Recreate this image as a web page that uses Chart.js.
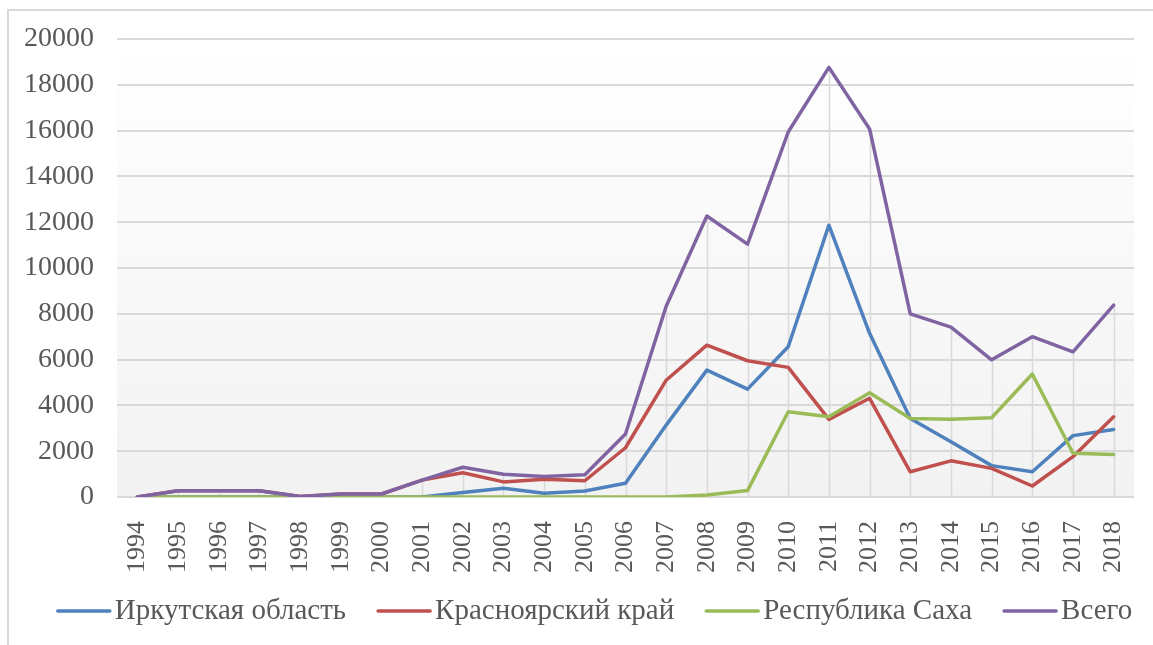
<!DOCTYPE html>
<html>
<head>
<meta charset="utf-8">
<script src="https://cdn.jsdelivr.net/npm/chart.js@4"></script>
<style>
  html, body { margin: 0; padding: 0; background: #fff; }
  #wrap { width: 1153px; height: 645px; position: relative; }
</style>
</head>
<body>
<div id="wrap"><canvas id="chart"></canvas></div>
<script>
// years on the category axis
const years = ['1994', '1995', '1996', '1997', '1998', '1999', '2000', '2001', '2002', '2003',
  '2004', '2005', '2006', '2007', '2008', '2009', '2010', '2011', '2012', '2013',
  '2014', '2015', '2016', '2017', '2018'];

// series values
const irkutsk = [0, 0, 0, 0, 0, 0, 0, 0, 200, 380, 160, 260, 600, 3140, 5540, 4710, 6560, 11870, 7150, 3430, 2410, 1370, 1100, 2680, 2950];
const krasnoyarsk = [0, 275, 275, 275, 20, 130, 130, 740, 1060, 660, 770, 710, 2150, 5100, 6630, 5950, 5660, 3390, 4310, 1100, 1580, 1250, 480, 1760, 3500];
const sakha = [0, 0, 0, 0, 0, 0, 0, 0, 0, 0, 0, 0, 0, 0, 90, 280, 3720, 3500, 4550, 3430, 3400, 3460, 5370, 1910, 1860];
const total = [0, 275, 275, 275, 20, 130, 130, 740, 1300, 990, 900, 970, 2750, 8330, 12270, 11040, 15940, 18760, 16070, 8000, 7420, 5990, 7000, 6340, 8380];

// y axis ticks
const yMin = 0;
const yMax = 20000;
const yStep = 2000;

const seriesNames = ['Иркутская область', 'Красноярский край', 'Республика Саха', 'Всего'];
const seriesColors = ['#4f81bd', '#c0504d', '#9bbb59', '#8064a2'];

const FONT = '"Liberation Serif", "Times New Roman", serif';
const TEXT = '#595959';

// gradient plot background + outer border of the chart area
const backgroundPlugin = {
  id: 'plotBackground',
  beforeDraw(chart) {
    const { ctx, chartArea } = chart;
    ctx.save();
    const g = ctx.createLinearGradient(0, chartArea.top, 0, chartArea.bottom);
    g.addColorStop(0, '#ffffff');
    g.addColorStop(1, '#f2f2f2');
    ctx.fillStyle = g;
    ctx.fillRect(chartArea.left, chartArea.top, chartArea.right - chartArea.left, chartArea.bottom - chartArea.top);
    ctx.strokeStyle = '#d9d9d9';
    ctx.lineWidth = 2;
    ctx.strokeRect(8, 10, chart.width + 20, chart.height + 20);
    ctx.restore();
  }
};

// drop lines from the highest value at each year down to the axis
const dropLinesPlugin = {
  id: 'dropLines',
  beforeDatasetsDraw(chart) {
    const { ctx, scales: { x, y } } = chart;
    ctx.save();
    ctx.strokeStyle = '#d9d9d9';
    ctx.lineWidth = 1.5;
    years.forEach((yr, i) => {
      const top = Math.max(...chart.data.datasets.map(ds => ds.data[i]));
      const px = Math.round(x.getPixelForValue(i)) + 0.5;
      ctx.beginPath();
      ctx.moveTo(px, y.getPixelForValue(top));
      ctx.lineTo(px, y.getPixelForValue(0));
      ctx.stroke();
    });
    ctx.restore();
  }
};

// legend drawn in the Excel style: line sample followed closely by its text
const legendPlugin = {
  id: 'excelLegend',
  afterDraw(chart) {
    const { ctx } = chart;
    ctx.save();
    ctx.font = '29px ' + FONT;
    ctx.textBaseline = 'middle';
    ctx.textAlign = 'left';
    const lineLen = 56, gapText = 3, gapItem = 30;
    let widthAll = 0;
    chart.data.datasets.forEach((ds, i) => {
      widthAll += lineLen + gapText + ctx.measureText(ds.label).width + (i > 0 ? gapItem : 0);
    });
    let xPos = 594 - widthAll / 2;
    const yPos = 611;
    chart.data.datasets.forEach(ds => {
      ctx.strokeStyle = ds.borderColor;
      ctx.lineWidth = 3.5;
      ctx.lineCap = 'round';
      ctx.beginPath();
      ctx.moveTo(xPos + 2, yPos);
      ctx.lineTo(xPos + lineLen - 2, yPos);
      ctx.stroke();
      xPos += lineLen + gapText;
      ctx.fillStyle = TEXT;
      ctx.fillText(ds.label, xPos, yPos);
      xPos += ctx.measureText(ds.label).width + gapItem;
    });
    ctx.restore();
  }
};

const seriesData = [irkutsk, krasnoyarsk, sakha, total];

const ctx = document.getElementById('chart');
new Chart(ctx, {
  type: 'line',
  data: {
    labels: years,
    datasets: seriesData.map((values, i) => ({
      label: seriesNames[i],
      data: values,
      borderColor: seriesColors[i],
      backgroundColor: seriesColors[i],
      borderWidth: 3.5,
      pointRadius: 0,
      tension: 0,
      borderJoinStyle: 'round',
      borderCapStyle: 'round',
      // later series on top, like Excel
      order: seriesData.length - i
    }))
  },
  options: {
    responsive: true,
    maintainAspectRatio: false,
    animation: false,
    layout: {
      padding: { left: 0, right: 19, top: 39, bottom: 60 }
    },
    plugins: {
      legend: { display: false },
      tooltip: { enabled: false }
    },
    scales: {
      x: {
        offset: true,
        grid: { display: false },
        border: { display: false },
        ticks: {
          color: TEXT,
          font: { family: FONT, size: 26 },
          minRotation: 90,
          maxRotation: 90,
          autoSkip: false,
          padding: 16
        },
        afterFit(scale) {
          scale.height = 88;
          scale.paddingLeft = 0;
          scale.paddingRight = 0;
        }
      },
      y: {
        min: yMin,
        max: yMax,
        grid: { color: '#d9d9d9', lineWidth: 2, drawTicks: false },
        border: { display: false },
        ticks: {
          stepSize: yStep,
          color: TEXT,
          font: { family: FONT, size: 28 },
          padding: 23,
          callback: value => String(value)
        },
        afterFit(scale) {
          scale.width = 117;
          scale.paddingTop = 0;
          scale.paddingBottom = 0;
        }
      }
    }
  },
  plugins: [backgroundPlugin, dropLinesPlugin, legendPlugin]
});
</script>
</body>
</html>
